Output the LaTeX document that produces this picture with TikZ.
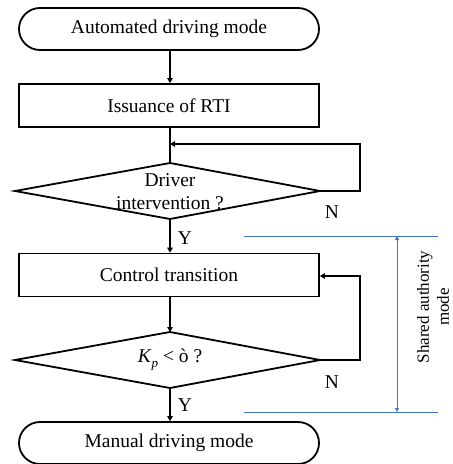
\documentclass[tikz,border=0pt]{standalone}
\usepackage{fontspec}
\setmainfont{Liberation Serif}
\usetikzlibrary{arrows.meta,shapes.geometric}
\definecolor{ablue}{RGB}{68,114,196}
\tikzset{
  flow/.style={line width=1.8bp,draw=black},
  arr/.style={flow,-{Triangle[length=5bp,width=5.5bp]}},
  txt/.style={font=\fontsize{19.5bp}{23bp}\selectfont},
  term/.style={flow,txt,rounded corners=21bp,minimum width=300bp,minimum height=42bp,inner sep=0pt},
  proc/.style={flow,txt,minimum width=300bp,minimum height=43bp,inner sep=0pt},
  lbl/.style={txt,inner sep=0pt},
  blue/.style={draw=ablue,line width=0.8bp},
}
\begin{document}
\begin{tikzpicture}[x=1bp,y=-1bp]
\useasboundingbox (0,0) rectangle (453,464);
\node[term] (start) at (169,29) {Automated driving mode};
\node[proc] (rti) at (169,105.5) {Issuance of RTI};
\draw[flow] (15,191) coordinate (d1l) -- (170,163) coordinate (d1t) -- (320,191) coordinate (d1r) -- (170,219) coordinate (d1b) -- cycle;
\node[lbl,align=center] (d1) at (170,192) {Driver\\intervention ?};
\node[proc] (ct) at (169,275) {Control transition};
\draw[flow] (15,360) coordinate (d2l) -- (170,332) coordinate (d2t) -- (320,360) coordinate (d2r) -- (170,388) coordinate (d2b) -- cycle;
\node[lbl] (d2) at (170,360) {\textit{K}\raisebox{-5bp}{\fontsize{13bp}{13bp}\selectfont\textit{p}} {<} ò ?};
\node[term] (end) at (169,443) {Manual driving mode};
% connectors
\draw[arr] (start.south -| 170,0) -- (rti.north -| 170,0);
\draw[flow] (rti.south -| 170,0) -- (d1t);
\coordinate (m1) at (170,144);
\draw[arr] (d1r) -- (360,191) -- (360,144) -- (m1);
\draw[arr] (d1b) -- (ct.north -| d1b);
\node[lbl] (y1) at (185,238) {Y};
\node[lbl] (n1) at (332,212) {N};
\draw[arr] (ct.south -| 170,0) -- (d2t);
\draw[arr] (d2r) -- (360,360) -- (360,276) -- (ct.east |- 0,276);
\node[lbl] (y2) at (185,405) {Y};
\node[lbl] (n2) at (332,382) {N};
\draw[arr] (d2b) -- (end.north -| d2b);
% shared authority
\coordinate (b1l) at (244,236); \coordinate (b1r) at (438,236);
\coordinate (b2l) at (244,412); \coordinate (b2r) at (438,412);
\draw[blue] (b1l) -- (b1r);
\draw[blue] (b2l) -- (b2r);
\draw[blue,{Triangle[length=4bp,width=4bp]}-{Triangle[length=4bp,width=4bp]}] (397,236) -- (397,412);
\node[lbl,rotate=90,align=center,font=\fontsize{17bp}{20bp}\selectfont] (sam) at (433,307) {Shared authority\\mode};
\end{tikzpicture}
\end{document}
